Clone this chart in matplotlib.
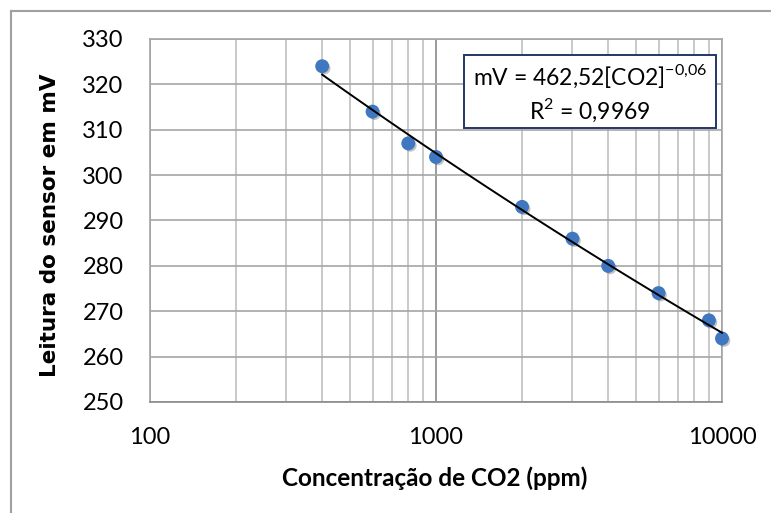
import numpy as np
import matplotlib
matplotlib.use("Agg")
import matplotlib.pyplot as plt
import matplotlib.patheffects as pe
from matplotlib.lines import Line2D
from matplotlib.patches import Rectangle
from matplotlib.ticker import FixedLocator, LogLocator, NullFormatter

plt.rcParams['font.family'] = ['Lato', 'DejaVu Sans']
plt.rcParams['mathtext.fontset'] = 'custom'
plt.rcParams['mathtext.rm'] = 'Lato'

# Sensor calibration data
co2_ppm = [400, 600, 800, 1000, 2000, 3000, 4000, 6000, 9000, 10000]
leitura_mv = [324, 314, 307, 304, 293, 286, 280, 274, 268, 264]
x_ticks = [100, 1000, 10000]
y_ticks = [250, 260, 270, 280, 290, 300, 310, 320, 330]
eq_text = r'mV = 462,52[CO2]$^{\mathrm{-0{,}06}}$'
r2_text = r'R$^{\mathrm{2}}$ = 0,9969'

W, H = 771, 513
fig = plt.figure(figsize=(W / 100, H / 100), dpi=100)
ax = fig.add_axes([150 / W, 1 - 402 / H, (722 - 150) / W, (402 - 39) / H])

# power-law trend line (linear fit in log-log space)
b, loga = np.polyfit(np.log(co2_ppm), np.log(leitura_mv), 1)
xf = np.logspace(np.log10(co2_ppm[0]), np.log10(co2_ppm[-1]), 100)
yf = np.exp(loga) * xf ** b

ax.plot(co2_ppm, leitura_mv, 'o', ms=9, color='#3f78c0', mec='#3f78c0', zorder=3,
        clip_on=False,
        path_effects=[pe.SimplePatchShadow(offset=(1.5, -1.5), shadow_rgbFace='#555555', alpha=0.35),
                      pe.Normal()])
ax.plot(xf, yf, color='black', lw=1.4, zorder=4, clip_on=False)

ax.set_xscale('log')
ax.set_xlim(100, 10000)
ax.set_ylim(250, 330)
ax.xaxis.set_major_locator(FixedLocator(x_ticks))
ax.xaxis.set_minor_locator(LogLocator(base=10, subs=np.arange(2, 10)))
ax.xaxis.set_minor_formatter(NullFormatter())
ax.set_xticklabels([str(v) for v in x_ticks])
ax.set_yticks(y_ticks)

ax.grid(True, which='major', axis='x', color='#8a8a8a', lw=1.2)
ax.grid(True, which='minor', axis='x', color='#c0c0c0', lw=1.2)
ax.grid(True, which='major', axis='y', color='#a6a6a6', lw=1.2)
ax.set_axisbelow(True)
for s in ax.spines.values():
    s.set_color('#a6a6a6')
    s.set_linewidth(1.2)
ax.spines['bottom'].set_color('#8a8a8a')

ax.tick_params(which='both', length=0, labelsize=17)
ax.tick_params(axis='x', pad=18)
ax.tick_params(axis='y', pad=19)

fig.text(435 / W, 1 - 478 / H, 'Concentração de CO2 (ppm)', ha='center', va='center',
         fontsize=17.5, fontweight='bold')
fig.text(50 / W, 1 - 225 / H, 'Leitura do sensor em mV', ha='center', va='center',
         rotation=90, fontsize=15.5, fontweight='bold', family='DejaVu Sans')

# equation box
fig.add_artist(Rectangle((464 / W, 1 - 128 / H), (716 - 464) / W, (128 - 55) / H,
                         transform=fig.transFigure, facecolor='white', edgecolor='#1f3864',
                         lw=1.4, zorder=5))
fig.text(590 / W, 1 - 76 / H, eq_text, ha='center', va='center', fontsize=16.5, zorder=6)
fig.text(590 / W, 1 - 110 / H, r2_text, ha='center', va='center', fontsize=16.5, zorder=6)

# outer chart border (partially cropped)
fig.add_artist(Line2D([10.5 / W, 10.5 / W], [0, 1 - 10.5 / H], color='#a0a0a0', lw=1.5))
fig.add_artist(Line2D([10.5 / W, 1], [1 - 10.5 / H, 1 - 10.5 / H], color='#a0a0a0', lw=1.5))

fig.savefig('out.png', dpi=100)
